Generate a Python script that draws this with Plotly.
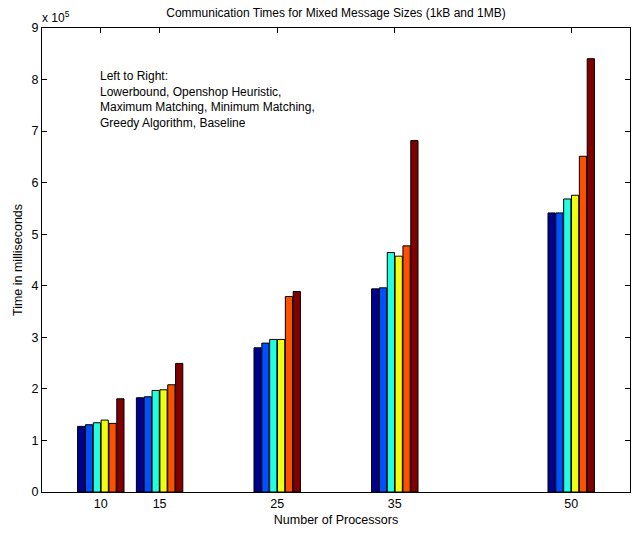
import plotly.graph_objects as go

# Number of processors per experiment group
processors = [10, 15, 25, 35, 50]

# Communication times (milliseconds) for each algorithm
lowerbound = [127300, 182800, 279700, 394000, 541300]
openshop = [130500, 184700, 288800, 396000, 541300]
max_matching = [134300, 197000, 295900, 464500, 568400]
min_matching = [139500, 198300, 295900, 457400, 575600]
greedy = [133100, 208000, 379200, 477400, 651200]
baseline = [180800, 249400, 388900, 681600, 840500]

series = [lowerbound, openshop, max_matching, min_matching, greedy, baseline]
names = ["Lowerbound", "Openshop Heuristic", "Maximum Matching",
         "Minimum Matching", "Greedy Algorithm", "Baseline"]
colors = ["#00008F", "#0050FF", "#20FFDF", "#EFFF10", "#FF5000", "#800000"]

y_ticks = list(range(0, 10))
SCALE = 1e5

font_family = "Liberation Sans, Arial, Helvetica, sans-serif"

fig = go.Figure()
for vals, name, col in zip(series, names, colors):
    fig.add_trace(go.Bar(
        x=processors,
        y=[v / SCALE for v in vals],
        name=name,
        marker=dict(color=col, line=dict(color="black", width=1)),
    ))

fig.update_layout(
    width=635, height=533,
    margin=dict(l=42, r=5, t=28, b=41),
    paper_bgcolor="white", plot_bgcolor="white",
    barmode="group", bargap=0.2, bargroupgap=0.08,
    showlegend=False,
    font=dict(family=font_family, size=12, color="black"),
    title=dict(text="Communication Times for Mixed Message Sizes (1kB and 1MB)",
               x=0.5 * (42 + 630) / 635, xanchor="center",
               y=1 - 13 / 533, yanchor="middle", font=dict(size=12)),
    xaxis=dict(
        range=[5, 55], tickmode="array", tickvals=processors,
        ticktext=[str(p) for p in processors],
        ticks="inside", ticklen=5, tickcolor="black",
        showline=True, linecolor="black", linewidth=1, mirror="ticks",
        showgrid=False, zeroline=False,
        tickfont=dict(size=12.5),
        title=dict(text="Number of Processors", standoff=5,
                   font=dict(size=12.5)),
    ),
    yaxis=dict(
        range=[0, 9], tickmode="array", tickvals=y_ticks,
        ticktext=[str(t) for t in y_ticks],
        ticks="inside", ticklen=5, tickcolor="black",
        showline=True, linecolor="black", linewidth=1, mirror="ticks",
        showgrid=False, zeroline=False,
        tickfont=dict(size=12.5),
        title=dict(text="Time in milliseconds", standoff=6,
                   font=dict(size=12.5)),
    ),
    annotations=[
        dict(text="x 10<sup>5</sup>", xref="paper", yref="paper",
             x=0, y=1, xshift=-2, yshift=1, xanchor="left", yanchor="bottom",
             showarrow=False, font=dict(size=12)),
        dict(text="Left to Right:<br>Lowerbound, Openshop Heuristic,<br>"
                  "Maximum Matching, Minimum Matching,<br>Greedy Algorithm, Baseline",
             xref="x", yref="y", x=9.75, y=8.25, xanchor="left", yanchor="top",
             align="left", showarrow=False, font=dict(size=12)),
    ],
)

fig.write_html("out.html")
